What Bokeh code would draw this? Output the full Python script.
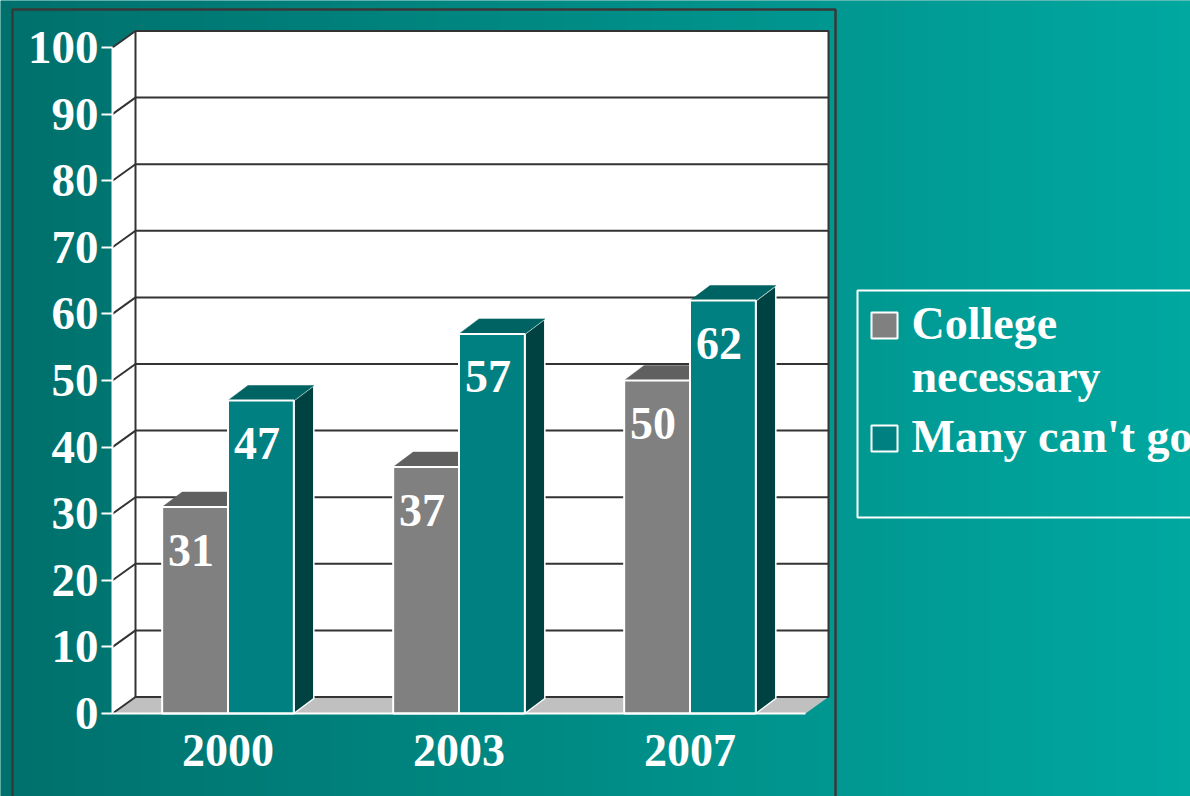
import numpy as np
from bokeh.plotting import figure
from bokeh.models import Range1d, LinearAxis, FixedTicker
from bokeh.core.properties import value
from bokeh.embed import file_html
from bokeh.resources import INLINE

# ---------------- data ----------------
years = ["2000", "2003", "2007"]
series_names = ["College necessary", "Many can't go"]
legend_labels = ["College\nnecessary", "Many can't go"]
college_necessary = [31, 37, 50]
many_cant_go = [47, 57, 62]
y_ticks = [0, 10, 20, 30, 40, 50, 60, 70, 80, 90, 100]

# ---------------- styles ----------------
front_colors = ["#808080", "#008080"]
top_colors = ["#606060", "#006363"]
side_colors = ["#404040", "#004242"]
FONT = value("Liberation Serif")

# ---------------- layout (reference pixels -> data) ----------------
W, H = 1190, 796
OFF = 0
CX0, CPX = 227.5, 231.0      # px of first category centre, px per category
Y0, YPX = 713.0, 6.66        # px of value 0 on front plane, px per unit


def X(px):
    return (px - CX0) / CPX


def Y(py):
    return (Y0 - py) / YPX


xr = Range1d(X(OFF), X(OFF + W))
yr = Range1d(Y(OFF + H), Y(OFF))

p = figure(width=W, height=H, x_range=xr, y_range=yr, output_backend="svg",
           toolbar_location=None, min_border=0, x_axis_type=None, y_axis_type=None)
p.outline_line_color = None
p.background_fill_color = "#008580"
p.border_fill_color = "#008580"

# background gradient
n = W
frac = (OFF + np.arange(n) + 0.5) / 1190.0
c0 = np.array([0x00, 0x70, 0x6C], dtype=float)
c1 = np.array([0x00, 0xA8, 0xA0], dtype=float)
cols = c0[None, :] + frac[:, None] * (c1 - c0)[None, :]
img = np.empty((1, n), dtype=np.uint32)
view = img.view(dtype=np.uint8).reshape((1, n, 4))
view[0, :, 0] = cols[:, 0].round()
view[0, :, 1] = cols[:, 1].round()
view[0, :, 2] = cols[:, 2].round()
view[0, :, 3] = 255
p.image_rgba(image=[img], x=xr.start, y=yr.start, dw=xr.end - xr.start, dh=yr.end - yr.start)

# panel frame
p.quad(left=X(12), right=X(835), top=Y(9), bottom=Y(900), fill_color=None,
       line_color="#383838", line_width=2.5)

# ---------------- 3D walls ----------------
WDX = 23.0 / CPX
WDY = 16.5 / YPX
x_left = -0.5
x_right = len(years) - 0.5
y_max = y_ticks[-1]

# side wall
p.patch(x=[x_left, x_left + WDX, x_left + WDX, x_left], y=[0, WDY, y_max + WDY, y_max],
        fill_color="white", line_color=None)
# floor
p.patch(x=[x_left, x_right, x_right + WDX, x_left + WDX], y=[0, 0, WDY, WDY],
        fill_color="#c0c0c0", line_color=None)
# back wall
p.quad(left=x_left + WDX, right=x_right + WDX, bottom=WDY, top=y_max + WDY,
       fill_color="white", line_color="#333333", line_width=2)
# gridlines on back wall
p.segment(x0=[x_left + WDX] * len(y_ticks), x1=[x_right + WDX] * len(y_ticks),
          y0=[v + WDY for v in y_ticks], y1=[v + WDY for v in y_ticks],
          line_color="#333333", line_width=2)
# diagonals on side wall
p.segment(x0=[x_left] * len(y_ticks), x1=[x_left + WDX] * len(y_ticks),
          y0=y_ticks, y1=[v + WDY for v in y_ticks],
          line_color="#333333", line_width=2)

# ---------------- bars ----------------
BW = 0.285
BDX = 20.0 / CPX
BDY = 15.0 / YPX
series = [college_necessary, many_cant_go]
for s, vals in enumerate(series):
    x0s = [i - BW + s * BW for i in range(len(years))]
    x1s = [x + BW for x in x0s]
    side_xs = [[x1, x1 + BDX, x1 + BDX, x1] for x1 in x1s]
    side_ys = [[0, BDY, v + BDY, v] for v in vals]
    p.patches(xs=side_xs, ys=side_ys, fill_color=side_colors[s], line_color="white", line_width=1.5)
    top_xs = [[x0, x1, x1 + BDX, x0 + BDX] for x0, x1 in zip(x0s, x1s)]
    top_ys = [[v, v, v + BDY, v + BDY] for v in vals]
    p.patches(xs=top_xs, ys=top_ys, fill_color=top_colors[s], line_color=top_colors[s], line_width=0.5)
    p.quad(left=x0s, right=x1s, bottom=0, top=vals, fill_color=front_colors[s],
           line_color="white", line_width=2)
    p.text(x=[(a + b) / 2 for a, b in zip(x0s, x1s)], y=vals, text=[str(v) for v in vals],
           text_font=FONT, text_font_style="bold", text_font_size="46px", text_color="white",
           text_align="center", text_baseline="middle", x_offset=-4, y_offset=43)

# ---------------- axes ----------------
yaxis = LinearAxis(fixed_location=x_left, ticker=FixedTicker(ticks=y_ticks), bounds=(0, y_max))
yaxis.axis_line_color = "white"
yaxis.axis_line_width = 2
yaxis.major_tick_line_color = "white"
yaxis.major_tick_line_width = 2
yaxis.major_tick_out = 11
yaxis.major_tick_in = 0
yaxis.minor_tick_line_color = None
yaxis.major_label_standoff = 3
yaxis.major_label_text_font = "Liberation Serif"
yaxis.major_label_text_font_style = "bold"
yaxis.major_label_text_font_size = "47px"
yaxis.major_label_text_color = "white"
p.add_layout(yaxis, "left")

xaxis = LinearAxis(fixed_location=0, ticker=FixedTicker(ticks=list(range(len(years)))),
                   bounds=(x_left, x_right))
xaxis.major_label_overrides = {i: y for i, y in enumerate(years)}
xaxis.axis_line_color = "white"
xaxis.axis_line_width = 2
xaxis.major_tick_line_color = None
xaxis.major_tick_out = 0
xaxis.major_tick_in = 0
xaxis.minor_tick_line_color = None
xaxis.major_label_standoff = 21
xaxis.major_label_text_font = "Liberation Serif"
xaxis.major_label_text_font_style = "bold"
xaxis.major_label_text_font_size = "46px"
xaxis.major_label_text_color = "white"
p.add_layout(xaxis, "below")

# ---------------- legend ----------------
p.quad(left=X(857), right=X(1230), top=Y(290), bottom=Y(517), fill_color=None,
       line_color="white", line_width=2)
sw_centres = [325, 438]
for s, name in enumerate(legend_labels):
    c = sw_centres[s]
    p.quad(left=X(871), right=X(897), top=Y(c - 13), bottom=Y(c + 13),
           fill_color=front_colors[s], line_color="white", line_width=2)
    p.text(x=[X(911)], y=[Y(c)], text=[name], text_font=FONT, text_font_style="bold",
           text_font_size="46px", text_color="white", text_align="left",
           text_baseline="top", y_offset=-28, text_line_height=1.04)

open("out.html", "w").write(file_html(p, INLINE))
